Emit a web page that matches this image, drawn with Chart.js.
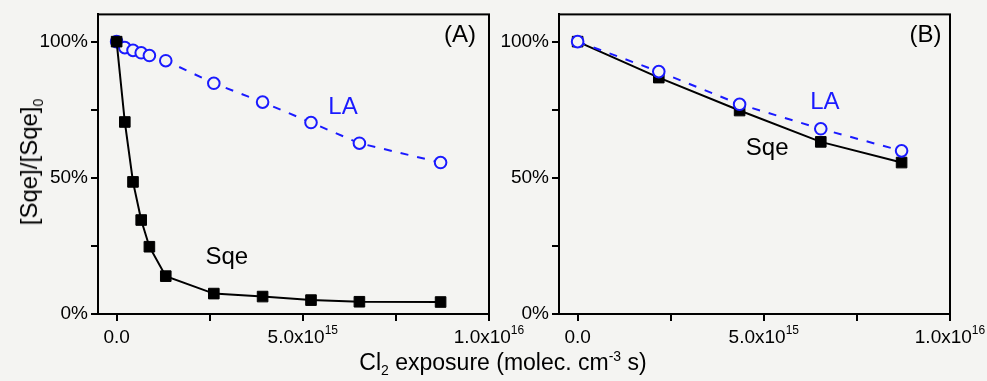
<!DOCTYPE html>
<html><head><meta charset="utf-8">
<script src="https://cdn.jsdelivr.net/npm/chart.js@4"></script>
<style>
html,body{margin:0;padding:0;background:#f4f4f2;}
#wrap{position:relative;width:987px;height:381px;overflow:hidden;font-family:"Liberation Sans",Arial,sans-serif;color:#000;}
canvas{position:absolute;left:0;top:0;}
#ytitle{position:absolute;left:29px;top:162px;transform:translate(-50%,-50%) rotate(-90deg);font-size:24px;white-space:nowrap;line-height:1;}
#xtitle{position:absolute;left:503px;top:362px;transform:translate(-50%,-50%);font-size:23px;white-space:nowrap;line-height:1;}
sub,sup{font-size:14px;line-height:0;}
</style></head>
<body>
<div id="wrap">
<canvas id="cA" width="987" height="381"></canvas>
<canvas id="cB" width="987" height="381"></canvas>
<div id="ytitle">[Sqe]/[Sqe]<sub>0</sub></div>
<div id="xtitle">Cl<sub>2</sub> exposure (molec. cm<sup>-3</sup> s)</div>
</div>
<script>
// ---- data (Cl2 exposure in molec cm^-3 s, values in %) ----
const xA   = [0, 0.22e15, 0.44e15, 0.66e15, 0.88e15, 1.32e15, 2.61e15, 3.92e15, 5.22e15, 6.52e15, 8.70e15];
const sqeA = [100, 70.5, 48.5, 34.5, 24.7, 13.9, 7.5, 6.4, 5.1, 4.5, 4.4];
const laA  = [100, 97.8, 96.8, 95.9, 94.9, 93.0, 84.7, 77.8, 70.3, 62.7, 55.6];

const xB   = [0, 2.18e15, 4.35e15, 6.53e15, 8.70e15];
const sqeB = [100, 86.8, 74.7, 63.2, 55.6];
const laB  = [100, 89.0, 77.0, 68.0, 59.9];

const xTickValues   = [0, 2.5e15, 5e15, 7.5e15, 1e16];
const xTickMantissa = ['0.0', '', '5.0x10', '', '1.0x10'];
const xTickExponent = ['', '', '15', '', '16'];
const yTickValues   = [0, 25, 50, 75, 100];
const yTickLabels   = ['0%', '', '50%', '', '100%'];

const BG = '#f4f4f2';
const BLUE = '#1a1aff';
const FONT = '"Liberation Sans", Arial, sans-serif';

function framePlugin(panelLabel, notes) {
  return {
    id: 'frame',
    afterDraw(chart) {
      const ctx = chart.ctx, a = chart.chartArea;
      ctx.save();
      ctx.strokeStyle = '#000'; ctx.lineWidth = 2;
      ctx.strokeRect(a.left, a.top, a.right - a.left, a.bottom - a.top);
      const xs = chart.scales.x;
      ctx.fillStyle = '#000'; ctx.textBaseline = 'alphabetic'; ctx.textAlign = 'left';
      xTickValues.forEach((v, i) => {
        const m = xTickMantissa[i], e = xTickExponent[i];
        if (!m) return;
        ctx.font = '19px ' + FONT; const wm = ctx.measureText(m).width;
        ctx.font = '12px ' + FONT; const we = e ? ctx.measureText(e).width : 0;
        const px = xs.getPixelForValue(v);
        const x0 = px - (wm + we) / 2;
        ctx.font = '19px ' + FONT; ctx.fillText(m, x0, a.bottom + 29);
        if (e) { ctx.font = '12px ' + FONT; ctx.fillText(e, x0 + wm, a.bottom + 20); }
      });
      const ys = chart.scales.y;
      ctx.textAlign = 'center'; ctx.textBaseline = 'middle';
      ctx.font = '24px ' + FONT; ctx.fillStyle = '#000';
      ctx.fillText(panelLabel.t, xs.getPixelForValue(panelLabel.x), ys.getPixelForValue(panelLabel.y));
      notes.forEach(n => {
        ctx.font = '24px ' + FONT; ctx.fillStyle = n.c;
        ctx.fillText(n.t, xs.getPixelForValue(n.x), ys.getPixelForValue(n.y));
      });
      ctx.restore();
    }
  };
}

function makePanel(id, xs, sqe, la, axisWidth, padRight, laOnTop, panelLabel, notes) {
  const sqeDs = {
    label: 'Sqe', data: xs.map((x, i) => ({x, y: sqe[i]})),
    borderColor: '#000', borderWidth: 2, tension: 0,
    pointStyle: 'rect', pointRadius: 7.5, pointBackgroundColor: '#000',
    pointBorderColor: '#000', pointBorderWidth: 1, order: laOnTop ? 2 : 1
  };
  const laDs = {
    label: 'LA', data: xs.map((x, i) => ({x, y: la[i]})),
    borderColor: BLUE, borderWidth: 2, borderDash: [8, 9], tension: 0,
    pointStyle: 'circle', pointRadius: 5.8, pointBackgroundColor: BG,
    pointBorderColor: BLUE, pointBorderWidth: 2, order: laOnTop ? 1 : 2
  };
  return new Chart(document.getElementById(id), {
    type: 'line',
    data: { datasets: [sqeDs, laDs] },
    options: {
      responsive: false, animation: false, devicePixelRatio: 1,
      layout: { padding: { left: 0, right: padRight, top: 12, bottom: 0 } },
      plugins: { legend: { display: false }, tooltip: { enabled: false } },
      scales: {
        x: {
          type: 'linear', min: -0.5e15, max: 1e16,
          afterBuildTicks: s => { s.ticks = xTickValues.map(v => ({ value: v })); },
          afterFit: s => { s.height = 67; },
          ticks: { display: false },
          grid: { drawOnChartArea: false, drawTicks: true, tickLength: 7, color: '#000', lineWidth: 2 },
          border: { display: true, color: '#000', width: 2 }
        },
        y: {
          type: 'linear', min: 0, max: 110,
          afterBuildTicks: s => { s.ticks = yTickValues.map(v => ({ value: v })); },
          afterFit: s => { s.width = axisWidth; },
          ticks: {
            callback: (v) => yTickLabels[yTickValues.indexOf(v)],
            font: { family: FONT, size: 19 }, color: '#000', padding: 3
          },
          grid: { drawOnChartArea: false, drawTicks: true, tickLength: 7, color: '#000', lineWidth: 2 },
          border: { display: true, color: '#000', width: 2 }
        }
      }
    },
    plugins: [framePlugin(panelLabel, notes)]
  });
}

makePanel('cA', xA, sqeA, laA, 98, 987 - 489, false,
  { t: '(A)', x: 9.22e15, y: 102.2 },
  [ { t: 'LA', x: 6.08e15, y: 76, c: BLUE }, { t: 'Sqe', x: 2.96e15, y: 20.7, c: '#000' } ]);
makePanel('cB', xB, sqeB, laB, 559, 987 - 950, true,
  { t: '(B)', x: 9.34e15, y: 102.2 },
  [ { t: 'LA', x: 6.64e15, y: 77.8, c: BLUE }, { t: 'Sqe', x: 5.09e15, y: 60.7, c: '#000' } ]);
</script>
</body></html>
